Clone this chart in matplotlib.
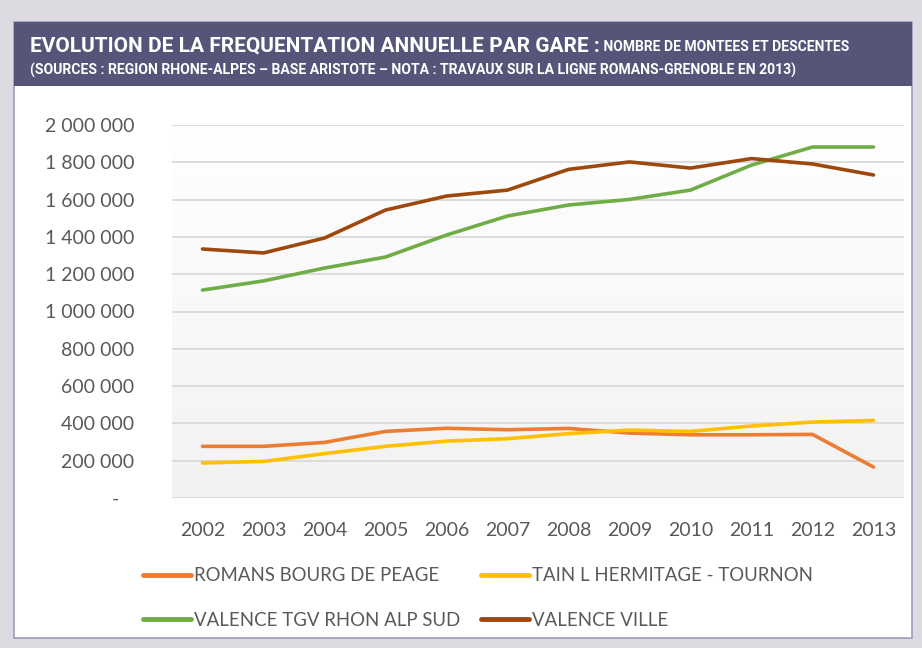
import matplotlib
matplotlib.use("Agg")
import matplotlib.pyplot as plt
import numpy as np
from matplotlib.patches import Rectangle

years = [2002, 2003, 2004, 2005, 2006, 2007, 2008, 2009, 2010, 2011, 2012, 2013]
romans = [277000, 277000, 298000, 357000, 374000, 366000, 373000, 348000, 339000, 339000, 341000, 166000]
tain = [188000, 196000, 238000, 277000, 305000, 318000, 345000, 364000, 357000, 386000, 407000, 416000]
valence_tgv = [1115000, 1164000, 1233000, 1292000, 1410000, 1512000, 1571000, 1601000, 1651000, 1785000, 1882000, 1882000]
valence_ville = [1335000, 1314000, 1394000, 1544000, 1619000, 1651000, 1762000, 1802000, 1769000, 1820000, 1791000, 1732000]

names = ["ROMANS BOURG DE PEAGE", "TAIN L HERMITAGE - TOURNON",
         "VALENCE TGV RHON ALP SUD", "VALENCE VILLE"]
colors = ["#ED7D31", "#FFC000", "#70AD47", "#9E480E"]

title_main = "EVOLUTION DE LA FREQUENTATION ANNUELLE PAR GARE :"
title_sub = " NOMBRE DE MONTEES ET DESCENTES"
title_src = "(SOURCES : REGION RHONE-ALPES \u2013 BASE ARISTOTE \u2013 NOTA : TRAVAUX SUR LA LIGNE ROMANS-GRENOBLE EN 2013)"

W, H = 922, 648
fig = plt.figure(figsize=(W / 100, H / 100), dpi=100)
fig.patch.set_facecolor("#DCDBE2")

def px(x, y, w, h):
    return (x / W, 1 - (y + h) / H, w / W, h / H)

def fit(t, target):
    # shrink/grow a text so its width is close to the reference
    fig.canvas.draw()
    w = t.get_window_extent().width
    t.set_fontsize(t.get_fontsize() * target / w)
    fig.canvas.draw()
    return t.get_window_extent()

# panel + header
x0, y0, w0, h0 = px(14, 22, 898, 616)
fig.patches.append(Rectangle((x0, y0), w0, h0, transform=fig.transFigure,
                             facecolor="white", edgecolor="#9D9DBB", lw=1.2, zorder=-2))
x1, y1, w1, h1 = px(14, 22, 898, 64)
fig.patches.append(Rectangle((x1, y1), w1, h1, transform=fig.transFigure,
                             facecolor="#55557A", edgecolor="none", zorder=-1))

t1 = fig.text(30 / W, 1 - 46 / H, title_main, color="white", fontsize=16,
              fontweight="bold", family="Roboto", va="center", ha="left")
bb = fit(t1, 568)
t2 = fig.text(bb.x1 / W, 1 - 47 / H, title_sub, color="white", fontsize=10,
              fontweight="bold", family="Roboto", va="center", ha="left")
fit(t2, 250)
t3 = fig.text(30 / W, 1 - 70 / H, title_src, color="white", fontsize=10,
              fontweight="bold", family="Roboto", va="center", ha="left")
fit(t3, 765)

# axes
ax = fig.add_axes([172 / W, 1 - 498 / H, 732 / W, 373 / H], zorder=2)
ax.patch.set_alpha(0)
ax.set_xlim(2001.5, 2013.5)
ax.set_ylim(0, 2000000)

grad = np.linspace(0, 1, 256).reshape(-1, 1)
ax.imshow(grad, cmap=matplotlib.colors.LinearSegmentedColormap.from_list(
    "bg", ["#F2F2F3", "#FFFFFF"]), aspect="auto",
    extent=(2001.5, 2013.5, 0, 2000000), origin="lower", zorder=0)

for s, c, n in zip([romans, tain, valence_tgv, valence_ville], colors, names):
    ax.plot(years, s, color=c, lw=2.6, label=n, zorder=3, solid_capstyle="round")

ax.set_yticks(np.arange(0, 2000001, 200000))
ax.set_yticklabels(["-   "] + [f"{v:,}".replace(",", " ") for v in range(200000, 2000001, 200000)])
ax.set_xticks(years)
ax.set_xticklabels([str(y) for y in years])
ax.grid(axis="y", color="#D9D9D9", lw=1.3, zorder=1)
ax.set_axisbelow(True)
for sp in ax.spines.values():
    sp.set_visible(False)
ax.tick_params(length=0, labelcolor="#595959", labelsize=14)
ax.tick_params(axis="y", pad=27)
ax.tick_params(axis="x", pad=17)
for lab in ax.get_xticklabels() + ax.get_yticklabels():
    lab.set_family("Lato")

h, l = ax.get_legend_handles_labels()
order = [0, 2, 1, 3]
leg = fig.legend([h[i] for i in order], [l[i] for i in order], ncol=2,
                 loc="center left", bbox_to_anchor=(126 / W, 1 - 598 / H),
                 frameon=False, handlelength=2.6, handletextpad=0.15,
                 columnspacing=1.1, labelspacing=1.5,
                 prop={"family": "Lato", "size": 13.4})
for t in leg.get_texts():
    t.set_color("#595959")
for ln in leg.get_lines():
    ln.set_linewidth(3.5)

fig.savefig("out.png", dpi=100, facecolor=fig.get_facecolor())
